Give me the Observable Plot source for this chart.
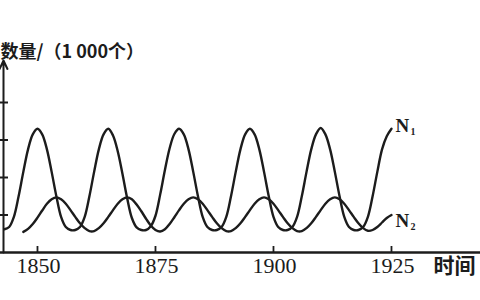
<!DOCTYPE html>
<html>
<head>
<meta charset="utf-8">
<script src="https://cdn.jsdelivr.net/npm/d3@7"></script>
<script src="https://cdn.jsdelivr.net/npm/@observablehq/plot@0.6"></script>
<style>
  html, body { margin: 0; padding: 0; background: #fff; }
  #chart { width: 480px; height: 300px; overflow: hidden; }
</style>
</head>
<body>
<div id="chart"></div>
<script>
// Tick labels and axis text
const xTicks = [1850, 1875, 1900, 1925];
const yTicks = [1, 2, 3, 4];
const yLabel = "数量/（1 000个）";
const xLabel = "时间";

// N1 (prey), values in thousands, yearly
const n1Years = [1843,1844,1845,1846,1847,1848,1849,1850,1851,1852,1853,1854,1855,1856,1857,1858,1859,1860,1861,1862,1863,1864,1865,1866,1867,1868,1869,1870,1871,1872,1873,1874,1875,1876,1877,1878,1879,1880,1881,1882,1883,1884,1885,1886,1887,1888,1889,1890,1891,1892,1893,1894,1895,1896,1897,1898,1899,1900,1901,1902,1903,1904,1905,1906,1907,1908,1909,1910,1911,1912,1913,1914,1915,1916,1917,1918,1919,1920,1921,1922,1923,1924,1925];
const n1Values = [0.62,0.68,0.95,1.5,2.15,2.75,3.15,3.3,3.15,2.75,2.15,1.5,0.95,0.68,0.6,0.6,0.68,0.95,1.5,2.15,2.75,3.15,3.3,3.12,2.7,2.1,1.45,0.92,0.67,0.6,0.6,0.7,0.98,1.55,2.2,2.78,3.16,3.3,3.15,2.75,2.15,1.5,0.95,0.68,0.6,0.6,0.68,0.95,1.5,2.15,2.75,3.15,3.3,3.15,2.75,2.15,1.5,0.95,0.68,0.6,0.6,0.68,0.95,1.5,2.15,2.75,3.15,3.32,3.15,2.75,2.15,1.5,0.95,0.68,0.6,0.6,0.68,0.95,1.5,2.15,2.75,3.1,3.3];

// N2 (predator), values in thousands, yearly
const n2Years = [1847,1848,1849,1850,1851,1852,1853,1854,1855,1856,1857,1858,1859,1860,1861,1862,1863,1864,1865,1866,1867,1868,1869,1870,1871,1872,1873,1874,1875,1876,1877,1878,1879,1880,1881,1882,1883,1884,1885,1886,1887,1888,1889,1890,1891,1892,1893,1894,1895,1896,1897,1898,1899,1900,1901,1902,1903,1904,1905,1906,1907,1908,1909,1910,1911,1912,1913,1914,1915,1916,1917,1918,1919,1920,1921,1922,1923,1924,1925];
const n2Values = [0.55,0.63,0.76,0.93,1.12,1.3,1.42,1.47,1.42,1.3,1.13,0.95,0.78,0.65,0.57,0.57,0.65,0.78,0.95,1.13,1.3,1.42,1.47,1.42,1.28,1.1,0.9,0.72,0.6,0.56,0.62,0.76,0.94,1.13,1.3,1.42,1.47,1.42,1.3,1.13,0.95,0.78,0.65,0.57,0.57,0.65,0.78,0.95,1.13,1.3,1.42,1.47,1.42,1.3,1.13,0.95,0.78,0.65,0.57,0.57,0.65,0.78,0.95,1.13,1.3,1.42,1.47,1.42,1.3,1.13,0.95,0.78,0.65,0.58,0.6,0.68,0.8,0.92,1.0];

const n1 = n1Years.map((t, i) => ({t, v: n1Values[i]}));
const n2 = n2Years.map((t, i) => ({t, v: n2Values[i]}));

const xDomain = [1842.8, 1943.86];
const yDomain = [0, 5.12];
const ink = "#1c1c1c";
const serif = "'Liberation Serif', 'DejaVu Serif', serif";
const cjk = "'Noto Sans CJK SC', sans-serif";

const chart = Plot.plot({
  width: 480,
  height: 300,
  marginTop: 60,
  marginBottom: 48,
  marginLeft: 3,
  marginRight: 0,
  style: {background: "#fff", overflow: "visible"},
  x: {domain: xDomain, axis: null},
  y: {domain: yDomain, axis: null},
  marks: [
    // axes
    Plot.ruleY([0], {stroke: ink, strokeWidth: 2.4, insetLeft: -3}),
    Plot.arrow([0], {x1: () => xDomain[0], x2: () => xDomain[0], y1: () => yDomain[0], y2: () => yDomain[1], stroke: ink, strokeWidth: 2, headLength: 7, headAngle: 50}),
    Plot.ruleY(yTicks, {y: d => d, stroke: ink, strokeWidth: 2, insetLeft: -3, insetRight: 472}),
    Plot.ruleX(xTicks, {x: d => d, stroke: ink, strokeWidth: 1.8, insetTop: 186}),
    Plot.text(xTicks, {x: d => d, text: d => String(d), frameAnchor: "bottom", dx: 1, dy: 20, fontSize: 22, fontFamily: serif, fill: ink}),
    Plot.text([xLabel], {text: d => d, frameAnchor: "bottom-right", textAnchor: "start", dx: -47, dy: 20, fontSize: 21, fontWeight: "bold", fontFamily: cjk, fill: ink}),
    Plot.text([yLabel], {text: d => d, frameAnchor: "top-left", textAnchor: "start", dx: -3, dy: -15, fontSize: 18, fontWeight: "bold", fontFamily: cjk, fill: ink}),
    // series
    Plot.line(n1, {x: "t", y: "v", curve: "catmull-rom", stroke: ink, strokeWidth: 2.4}),
    Plot.line(n2, {x: "t", y: "v", curve: "catmull-rom", stroke: ink, strokeWidth: 2.4}),
    // series labels
    Plot.text([n1[n1.length - 1]], {x: "t", y: "v", text: () => "N", textAnchor: "start", dx: 4, dy: -3, fontSize: 19, fontWeight: "bold", fontFamily: serif, fill: ink}),
    Plot.text([n1[n1.length - 1]], {x: "t", y: "v", text: () => "1", textAnchor: "start", dx: 19, dy: 3, fontSize: 10, fontWeight: "bold", fontFamily: serif, fill: ink}),
    Plot.text([n2[n2.length - 1]], {x: "t", y: "v", text: () => "N", textAnchor: "start", dx: 4, dy: 6, fontSize: 19, fontWeight: "bold", fontFamily: serif, fill: ink}),
    Plot.text([n2[n2.length - 1]], {x: "t", y: "v", text: () => "2", textAnchor: "start", dx: 19, dy: 12, fontSize: 10, fontWeight: "bold", fontFamily: serif, fill: ink})
  ]
});
document.getElementById("chart").appendChild(chart);
</script>
</body>
</html>
